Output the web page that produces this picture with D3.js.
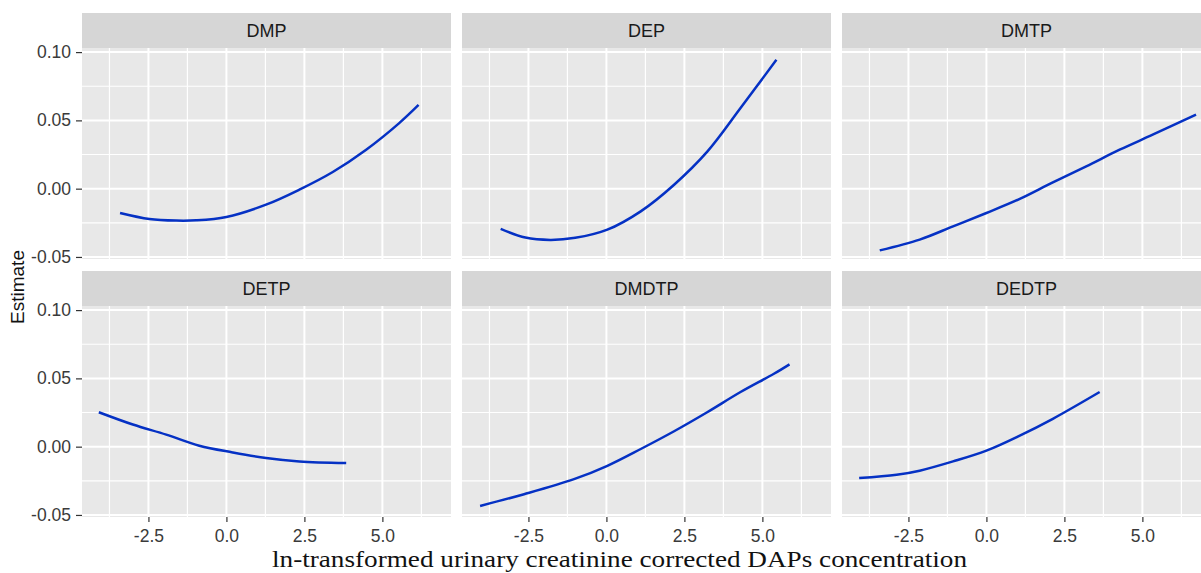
<!DOCTYPE html>
<html>
<head>
<meta charset="utf-8">
<script src="https://cdn.jsdelivr.net/npm/d3@7"></script>
<style>
  body { margin: 0; background: #fff; }
  svg { display: block; }
</style>
</head>
<body>
<svg id="chart" width="1201" height="573"></svg>
<script>
// facet names, in reading order
var panels = ['DMP', 'DEP', 'DMTP', 'DETP', 'DMDTP', 'DEDTP'];

// curves (x = ln concentration, y = estimate)
var xDMP   = [-3.41, -2.47, -1.61, -0.97, 0.0, 1.27, 2.34, 3.41, 4.48, 5.54, 6.16];
var yDMP   = [-0.0178, -0.0222, -0.0234, -0.0232, -0.0207, -0.0117, -0.0007, 0.0122, 0.0285, 0.048, 0.0613];
var xDEP   = [-3.39, -2.6, -1.8, -1.0, 0.03, 1.10, 2.17, 3.24, 4.30, 5.45];
var yDEP   = [-0.0295, -0.0358, -0.0375, -0.0360, -0.030, -0.0166, 0.0029, 0.0273, 0.059, 0.0944];
var xDMTP  = [-3.42, -2.14, -1.07, 0.0, 1.07, 2.13, 3.2, 4.27, 5.33, 6.72];
var yDMTP  = [-0.0452, -0.0373, -0.0276, -0.0178, -0.0075, 0.0046, 0.0163, 0.0285, 0.0395, 0.0542];
var xDETP  = [-4.09, -3.0, -1.93, -0.87, 0.2, 1.27, 2.34, 3.84];
var yDETP  = [0.0252, 0.0162, 0.0088, 0.0007, -0.0042, -0.0083, -0.0108, -0.0120];
var xDMDTP = [-4.05, -2.64, -1.04, 0.03, 1.10, 2.17, 3.23, 4.30, 5.37, 5.87];
var yDMDTP = [-0.0434, -0.0348, -0.0238, -0.014, -0.0017, 0.0113, 0.0252, 0.040, 0.0534, 0.0603];
var xDEDTP = [-4.08, -2.88, -2.14, -1.07, 0.0, 1.07, 2.13, 3.63];
var yDEDTP = [-0.0230, -0.0206, -0.0176, -0.0108, -0.0029, 0.0081, 0.0204, 0.040];

var xTicks = [-2.5, 0.0, 2.5, 5.0];
var xMinor = [-3.75, -1.25, 1.25, 3.75, 6.25];
var yTicks = [-0.05, 0.00, 0.05, 0.10];
var yMinor = [-0.025, 0.025, 0.075];

var curveX = [xDMP, xDEP, xDMTP, xDETP, xDMDTP, xDEDTP];
var curveY = [yDMP, yDEP, yDMTP, yDETP, yDMDTP, yDEDTP];

// layout
var colLeft = [82, 462, 842];
var rowTop = [13, 271];
var panelW = 369, panelH = 211, stripH = 35;

var svg = d3.select('#chart');

var x = d3.scaleLinear().domain([-4.63, 7.2]).range([0, panelW]);
var y = d3.scaleLinear().domain([-0.0515, 0.103]).range([panelH, 0]);

// R style labels: plain hyphen, not unicode minus
function fmt(p){
  var f = d3.format('.' + p + 'f');
  return function(d){ return f(d).replace('\u2212', '-'); };
}

var line = d3.line()
  .x(function(d){ return x(d[0]); })
  .y(function(d){ return y(d[1]); })
  .curve(d3.curveCatmullRom.alpha(0.5));

panels.forEach(function(name, i){
  var col = i % 3, row = Math.floor(i / 3);
  var g = svg.append('g')
    .attr('transform', 'translate(' + colLeft[col] + ',' + rowTop[row] + ')');

  // strip
  g.append('rect')
    .attr('width', panelW).attr('height', stripH)
    .attr('fill', '#d6d6d6');
  g.append('text')
    .attr('x', panelW / 2).attr('y', stripH / 2)
    .attr('dy', '0.36em')
    .attr('text-anchor', 'middle')
    .attr('font-family', 'Liberation Sans, Arial, sans-serif')
    .attr('font-size', 18)
    .attr('fill', '#1a1a1a')
    .text(name);

  var p = g.append('g').attr('transform', 'translate(0,' + stripH + ')');
  p.append('rect')
    .attr('width', panelW).attr('height', panelH)
    .attr('fill', '#e8e8e8');

  // grid, minor then major
  p.selectAll('.ymin').data(yMinor).enter().append('line')
    .attr('x1', 0).attr('x2', panelW)
    .attr('y1', y).attr('y2', y)
    .attr('stroke', '#fff').attr('stroke-width', 1.2);
  p.selectAll('.xmin').data(xMinor).enter().append('line')
    .attr('y1', 0).attr('y2', panelH)
    .attr('x1', x).attr('x2', x)
    .attr('stroke', '#fff').attr('stroke-width', 1.2);
  p.selectAll('.ymaj').data(yTicks).enter().append('line')
    .attr('x1', 0).attr('x2', panelW)
    .attr('y1', y).attr('y2', y)
    .attr('stroke', '#fff').attr('stroke-width', 2);
  p.selectAll('.xmaj').data(xTicks).enter().append('line')
    .attr('y1', 0).attr('y2', panelH)
    .attr('x1', x).attr('x2', x)
    .attr('stroke', '#fff').attr('stroke-width', 2);

  var pts = d3.zip(curveX[i], curveY[i]);
  p.append('path')
    .datum(pts)
    .attr('d', line)
    .attr('fill', 'none')
    .attr('stroke', '#0531c4')
    .attr('stroke-width', 2.5);

  if (col === 0) {
    var ya = p.append('g')
      .call(d3.axisLeft(y).tickValues(yTicks).tickSize(6).tickPadding(5)
        .tickFormat(fmt(2)));
    ya.select('.domain').remove();
  }
  if (row === 1) {
    var xa = p.append('g')
      .attr('transform', 'translate(0,' + panelH + ')')
      .call(d3.axisBottom(x).tickValues(xTicks).tickSize(5).tickPadding(8)
        .tickFormat(fmt(1)));
    xa.select('.domain').remove();
  }
});

svg.selectAll('.tick line').attr('stroke', '#333').attr('stroke-width', 1.2);
svg.selectAll('.tick text')
  .attr('font-family', 'Liberation Sans, Arial, sans-serif')
  .attr('font-size', 17.5)
  .attr('fill', '#3a3a3a');

// axis titles
svg.append('text')
  .attr('transform', 'translate(24,287) rotate(-90)')
  .attr('text-anchor', 'middle')
  .attr('font-family', 'Liberation Sans, Arial, sans-serif')
  .attr('font-size', 19)
  .attr('fill', '#111')
  .text('Estimate');

svg.append('text')
  .attr('x', 619.5).attr('y', 567)
  .attr('text-anchor', 'middle')
  .attr('textLength', 695)
  .attr('lengthAdjust', 'spacingAndGlyphs')
  .attr('font-family', 'Liberation Serif, Times New Roman, serif')
  .attr('font-size', 24)
  .attr('fill', '#111')
  .text('ln-transformed urinary creatinine corrected DAPs concentration');
</script>
</body>
</html>
